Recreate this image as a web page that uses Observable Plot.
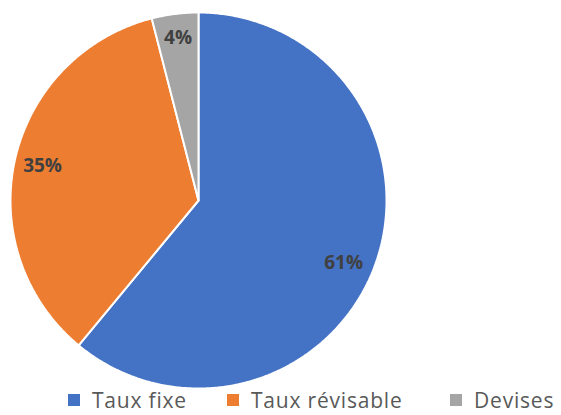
<!DOCTYPE html>
<html>
<head>
<meta charset="utf-8">
<script src="https://cdn.jsdelivr.net/npm/d3@7"></script>
<script src="https://cdn.jsdelivr.net/npm/@observablehq/plot@0.6"></script>
<style>
  html, body { margin: 0; padding: 0; background: #fff; }
  #chart { width: 561px; position: relative; font-family: "Open Sans", sans-serif; }
  #chart svg { display: block; }
  #legend { position: relative; height: 20px; }
  .item { position: absolute; top: 0; display: flex; align-items: center; height: 20px; font-size: 21px; line-height: 20px; letter-spacing: 0.8px; color: #595959; white-space: nowrap; }
  .sw { width: 12px; height: 12px; margin-right: 12px; flex: none; }
</style>
</head>
<body>
<div id="chart"></div>
<script>
// Data
const categories = ["Taux fixe", "Taux révisable", "Devises"];
const values = [61, 35, 4];
const colors = ["#4472C4", "#ED7D31", "#A5A5A5"];

// Build slice polygons from the values (clockwise from 12 o'clock)
const total = d3.sum(values);
const slices = [];
let acc = 0;
values.forEach((v, i) => {
  const a0 = acc / total * 2 * Math.PI;
  acc += v;
  const a1 = acc / total * 2 * Math.PI;
  const pts = [{cat: categories[i], x: 0, y: 0}];
  const n = Math.max(2, Math.ceil((a1 - a0) / (Math.PI / 360)));
  for (let k = 0; k <= n; k++) {
    const a = a0 + (a1 - a0) * k / n;
    pts.push({cat: categories[i], x: Math.sin(a), y: Math.cos(a)});
  }
  pts.push({cat: categories[i], x: 0, y: 0});
  const am = (a0 + a1) / 2;
  slices.push({cat: categories[i], pts, label: Math.round(v / total * 100) + "%", am});
});

// label placement (radius as fraction, small angular nudge in radians)
const labelR = [0.84, 0.85, 0.87];
const labelNudge = [0.06, 0, 0];

const plot = Plot.plot({
  width: 561,
  height: 390,
  marginLeft: 10,
  marginRight: 175,
  marginTop: 12,
  marginBottom: 2,
  x: {domain: [-1, 1], axis: null},
  y: {domain: [-1, 1], axis: null},
  style: {fontFamily: "Open Sans, sans-serif", background: "#fff"},
  marks: [
    ...slices.map((s, i) => Plot.line(s.pts, {x: "x", y: "y", fill: colors[i], stroke: "#fff", strokeWidth: 2, strokeLinejoin: "miter"})),
    Plot.text(slices, {
      x: (d, i) => Math.sin(d.am + labelNudge[i]) * labelR[i],
      y: (d, i) => Math.cos(d.am + labelNudge[i]) * labelR[i],
      text: "label",
      fill: "#404040",
      fontWeight: "bold",
      fontSize: 19
    })
  ]
});
document.getElementById("chart").appendChild(plot);

// Legend
const legend = document.createElement("div");
legend.id = "legend";
const lefts = [68, 227, 450];
categories.forEach((c, i) => {
  const it = document.createElement("div");
  it.className = "item";
  it.style.left = lefts[i] + "px";
  const sw = document.createElement("span");
  sw.className = "sw";
  sw.style.background = colors[i];
  const t = document.createElement("span");
  t.textContent = c;
  it.appendChild(sw);
  it.appendChild(t);
  legend.appendChild(it);
});
document.getElementById("chart").appendChild(legend);
</script>
</body>
</html>
